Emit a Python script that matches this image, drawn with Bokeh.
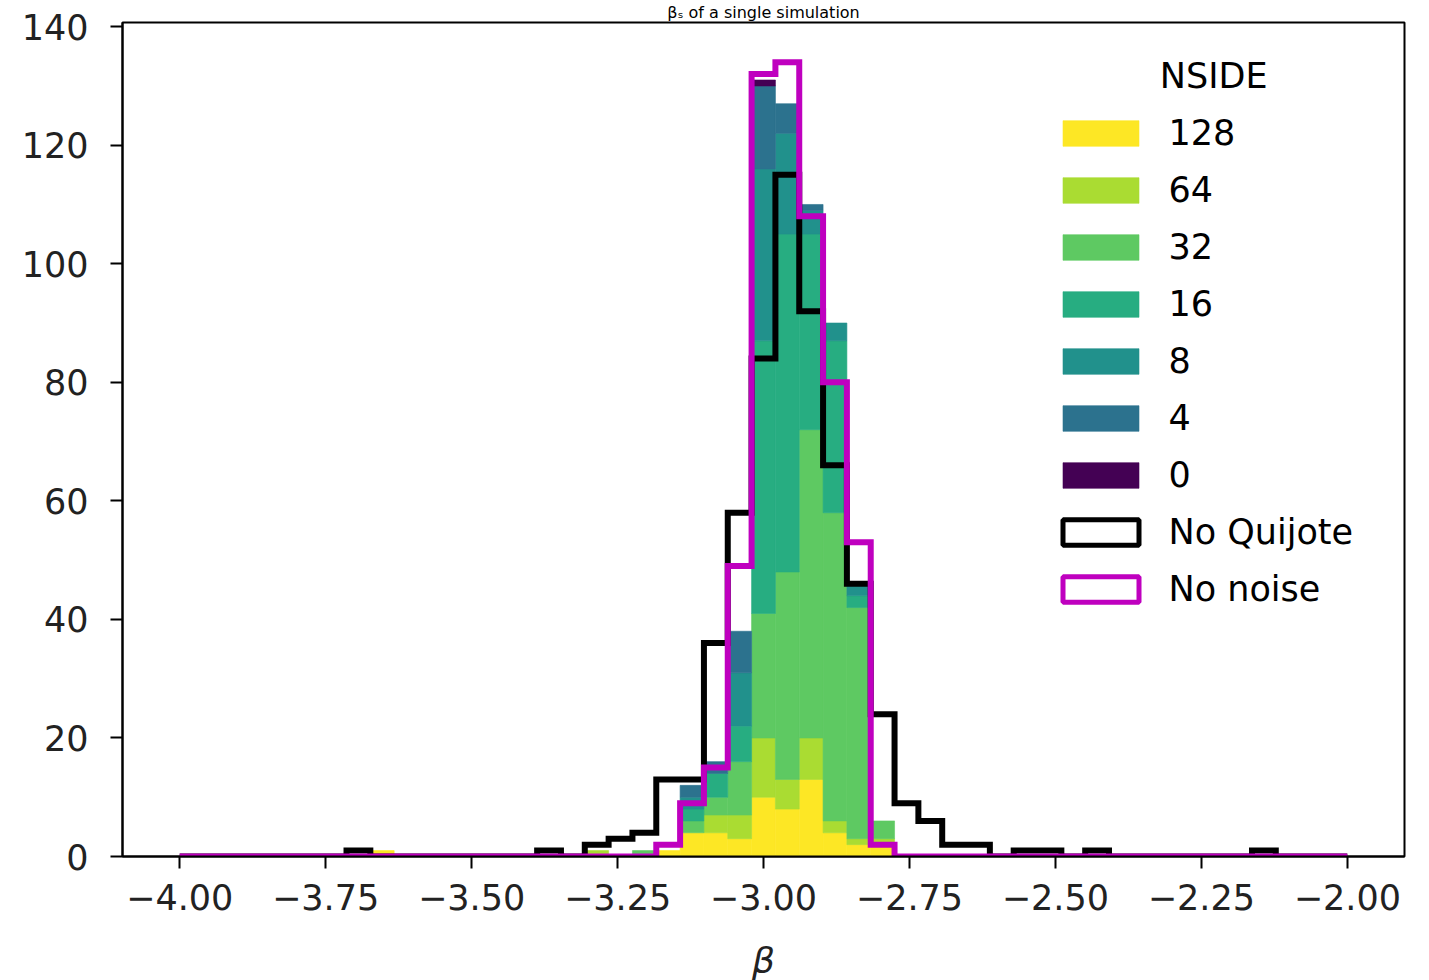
import numpy as np
from bokeh.plotting import figure
from bokeh.models import (Range1d, FixedTicker, CustomJSTickFormatter, Legend,
                          LegendItem, Label, ColumnDataSource)
from bokeh.embed import file_html
from bokeh.resources import INLINE

# ---------------- data ----------------
BIN_START, BIN_STOP, N_BINS = -4.0, -2.0, 49

# per-bin counts (49 bins from -4 to -2)
no_quijote = [0, 0, 0, 0, 0, 0, 0, 1, 0, 0,
              0, 0, 0, 0, 0, 1, 0, 2, 3, 4,
              13, 13, 36, 58, 84, 115, 92, 66, 46, 24,
              9, 6, 2, 2, 0, 1, 1, 0, 1, 0,
              0, 0, 0, 0, 0, 1, 0, 0, 0]
no_noise = [0, 0, 0, 0, 0, 0, 0, 0, 0, 0,
            0, 0, 0, 0, 0, 0, 0, 0, 0, 0,
            2, 9, 15, 49, 132, 134, 108, 80, 53, 2,
            0, 0, 0, 0, 0, 0, 0, 0, 0, 0,
            0, 0, 0, 0, 0, 0, 0, 0, 0]
nside_128 = [0, 0, 0, 0, 0, 0, 0, 0, 1, 0,
             0, 0, 0, 0, 0, 0, 0, 0, 0, 0,
             1, 4, 4, 3, 10, 8, 13, 4, 2, 2,
             0, 0, 0, 0, 0, 0, 0, 0, 0, 0,
             0, 0, 0, 0, 0, 0, 0, 0, 0]
nside_64 = [0, 0, 0, 0, 0, 0, 0, 0, 0, 0,
            0, 0, 0, 0, 0, 0, 0, 1, 0, 0,
            0, 0, 3, 4, 10, 5, 7, 2, 1, 1,
            0, 0, 0, 0, 0, 0, 0, 0, 0, 0,
            0, 0, 0, 0, 0, 0, 0, 0, 0]
nside_32 = [0, 0, 0, 0, 0, 0, 0, 0, 0, 0,
            0, 0, 0, 0, 0, 0, 0, 0, 0, 1,
            0, 2, 3, 9, 21, 35, 52, 52, 39, 3,
            0, 0, 0, 0, 0, 0, 0, 0, 0, 0,
            0, 0, 0, 0, 0, 0, 0, 0, 0]
nside_16 = [0, 0, 0, 0, 0, 0, 0, 0, 0, 0,
            0, 0, 0, 0, 0, 0, 0, 0, 0, 0,
            0, 2, 4, 6, 46, 57, 33, 29, 2, 0,
            0, 0, 0, 0, 0, 0, 0, 0, 0, 0,
            0, 0, 0, 0, 0, 0, 0, 0, 0]
nside_8 = [0, 0, 0, 0, 0, 0, 0, 0, 0, 0,
           0, 0, 0, 0, 0, 0, 0, 0, 0, 0,
           0, 2, 0, 9, 29, 17, 4, 3, 2, 0,
           0, 0, 0, 0, 0, 0, 0, 0, 0, 0,
           0, 0, 0, 0, 0, 0, 0, 0, 0]
nside_4 = [0, 0, 0, 0, 0, 0, 0, 0, 0, 0,
           0, 0, 0, 0, 0, 0, 0, 0, 0, 0,
           0, 2, 2, 7, 14, 5, 1, 0, 0, 0,
           0, 0, 0, 0, 0, 0, 0, 0, 0, 0,
           0, 0, 0, 0, 0, 0, 0, 0, 0]
nside_0 = [0, 0, 0, 0, 0, 0, 0, 0, 0, 0,
           0, 0, 0, 0, 0, 0, 0, 0, 0, 0,
           0, 0, 0, 0, 1, 0, 0, 0, 0, 0,
           0, 0, 0, 0, 0, 0, 0, 0, 0, 0,
           0, 0, 0, 0, 0, 0, 0, 0, 0]

NSIDE_LABELS = ["128", "64", "32", "16", "8", "4", "0"]          # bottom of stack first
LAYERS = [nside_128, nside_64, nside_32, nside_16, nside_8, nside_4, nside_0]
COLORS = ["#fde725", "#aadc32", "#5ec962", "#27ad81", "#21918c", "#2c728e", "#440154"]

X_TICKS = [-4.0, -3.75, -3.5, -3.25, -3.0, -2.75, -2.5, -2.25, -2.0]
X_TICK_LABELS = ["\u22124.00", "\u22123.75", "\u22123.50", "\u22123.25", "\u22123.00",
                 "\u22122.75", "\u22122.50", "\u22122.25", "\u22122.00"]
Y_TICKS = [0, 20, 40, 60, 80, 100, 120, 140]

TITLE = "\u03b2\u209b of a single simulation"
FONT = "DejaVu Sans"
Y_MAX = 140.7

# ---------------- figure ----------------
edges = np.linspace(BIN_START, BIN_STOP, N_BINS + 1)

p = figure(frame_width=1282, frame_height=834,
           x_range=Range1d(-4.098, -1.902), y_range=Range1d(0, Y_MAX),
           output_backend="svg", toolbar_location=None,
           min_border_left=122, min_border_right=25,
           min_border_top=22, min_border_bottom=123)
p.background_fill_color = "white"
p.border_fill_color = "white"
p.xgrid.visible = False
p.ygrid.visible = False
p.outline_line_color = "black"
p.outline_line_width = 2
p.outline_line_alpha = 1.0

# title in the narrow band above the frame
p.title.text = TITLE
p.title.align = "center"
p.title.text_font = FONT
p.title.text_font_size = "16px"
p.title.text_font_style = "normal"
p.title.text_color = "black"
p.title.standoff = 1

# stacked histogram layers
bottom = np.zeros(N_BINS)
layer_renderers = []
for counts, color in zip(LAYERS, COLORS):
    c = np.array(counts, dtype=float)
    top = bottom + c
    m = c > 0
    src = ColumnDataSource(dict(left=edges[:-1][m], right=edges[1:][m],
                                bottom=bottom[m], top=top[m]))
    r = p.quad(left="left", right="right", bottom="bottom", top="top", source=src,
               fill_color=color, line_color=color, line_width=0.6)
    layer_renderers.append(r)
    bottom = top


def step_path(counts):
    xs, ys = [edges[0]], [0.0]
    for i, c in enumerate(counts):
        xs += [edges[i], edges[i + 1]]
        ys += [c, c]
    xs.append(edges[-1])
    ys.append(0.0)
    return xs, ys


xq, yq = step_path(no_quijote)
p.line(xq, yq, line_color="black", line_width=6, line_join="miter")
xn, yn = step_path(no_noise)
p.line(xn, yn, line_color="#bf00bf", line_width=6, line_join="miter")

# invisible outlined boxes (NaN geometry) used only as legend symbols for the step histograms
nan_box = dict(left=[np.nan], right=[np.nan], bottom=[np.nan], top=[np.nan])
leg_nq = p.quad(left="left", right="right", bottom="bottom", top="top",
                source=ColumnDataSource(dict(nan_box)), fill_color="white",
                line_color="black", line_width=5)
leg_nn = p.quad(left="left", right="right", bottom="bottom", top="top",
                source=ColumnDataSource(dict(nan_box)), fill_color="white",
                line_color="#bf00bf", line_width=5)

items = [LegendItem(label=lab, renderers=[r]) for lab, r in zip(NSIDE_LABELS, layer_renderers)]
items += [LegendItem(label="No Quijote", renderers=[leg_nq]),
          LegendItem(label="No noise", renderers=[leg_nn])]
legend = Legend(items=items, location=(930.5, 247), glyph_width=95, glyph_height=32,
                label_standoff=21, spacing=17, padding=0, margin=0,
                border_line_color=None, background_fill_alpha=0,
                label_text_font=FONT, label_text_font_size="35px",
                label_text_color="black", label_height=26)
p.add_layout(legend)

p.add_layout(Label(x=-2.2288, y=131.65, text="NSIDE", text_align="center",
                   text_baseline="alphabetic", text_font=FONT,
                   text_font_size="35px", text_color="black"))

# axes
p.xaxis.ticker = FixedTicker(ticks=X_TICKS)
p.xaxis.formatter = CustomJSTickFormatter(
    args=dict(xt=X_TICKS, xl=X_TICK_LABELS),
    code="const i = xt.findIndex(t => Math.abs(t - tick) < 1e-9); return i >= 0 ? xl[i] : String(tick);")
p.yaxis.ticker = FixedTicker(ticks=Y_TICKS)

for ax in (p.xaxis[0], p.yaxis[0]):
    ax.major_tick_out = 12
    ax.major_tick_in = 0
    ax.minor_tick_line_color = None
    ax.major_tick_line_width = 2
    ax.major_tick_line_color = "black"
    ax.axis_line_color = "black"
    ax.axis_line_width = 2
    ax.major_label_text_font = FONT
    ax.major_label_text_font_size = "35px"
    ax.major_label_text_color = "#222222"

p.xaxis.major_label_standoff = 15
p.yaxis.major_label_standoff = 22
p.xaxis.axis_label = "\u03b2"
p.xaxis.axis_label_text_font = FONT
p.xaxis.axis_label_text_font_style = "italic"
p.xaxis.axis_label_text_font_size = "36px"
p.xaxis.axis_label_text_color = "#222222"
p.xaxis.axis_label_standoff = 27

open("out.html", "w").write(file_html(p, INLINE))
